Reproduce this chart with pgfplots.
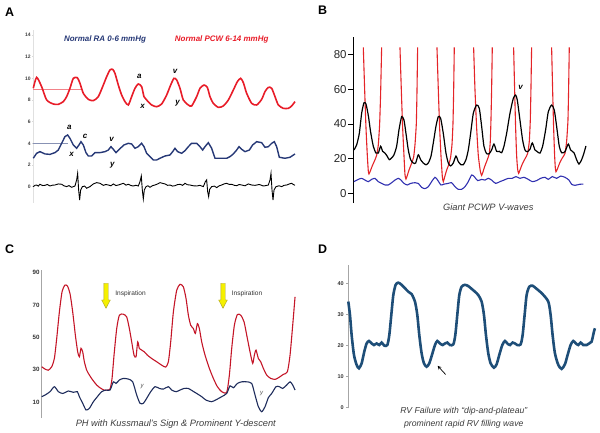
\documentclass[border=0pt]{standalone}
\usepackage{fontspec}
\setmainfont{Liberation Sans}
\usepackage{pgfplots}
\pgfplotsset{compat=1.18}
\definecolor{redA}{RGB}{232,28,40}
\definecolor{navyA}{RGB}{38,56,118}
\definecolor{redB}{RGB}{228,36,40}
\definecolor{blueB}{RGB}{48,48,176}
\definecolor{redC}{RGB}{196,22,40}
\definecolor{navyC}{RGB}{30,44,92}
\definecolor{blueD}{RGB}{30,78,120}
\definecolor{capgray}{RGB}{60,60,60}
\begin{document}
\begin{tikzpicture}[x=1bp,y=1bp]
\useasboundingbox (0,0) rectangle (600,433);
\pgfplotsset{every axis/.append style={scale only axis, anchor=south west, clip=false,
  /pgf/number format/assume math mode=true, axis x line=none, axis y line*=left}}

% ---------------- Panel A ----------------
\begin{axis}[at={(33.3bp,230.1bp)}, width=261.7bp, height=173.3bp,
  xmin=100, xmax=885, ymin=-1.5, ymax=14.5,
  axis line style={black!12, line width=0.5bp}, ytick={0,2,...,14},
  tick align=outside, major tick length=1.5bp, tick style={black!15, line width=0.4bp},
  yticklabel style={font=\fontsize{5}{6}\selectfont\bfseries, text=black!75, inner sep=1bp}]
\addplot[redA!55, line width=0.6bp] coordinates {(100,8.95) (245,8.95)};
\addplot[navyA!55, line width=0.6bp] coordinates {(100,3.97) (205,3.97)};
\addplot[redA, line width=1.6bp, smooth, tension=0.4] coordinates {
(100,9.08)(110,10.09)(125,9.23)(140,8.0)(160,7.63)(175,7.6)(190,7.85)(200,8.31)(210,9.08)(220,10.0)(232,10.06)(240,9.54)(250,8.62)(265,8.06)(280,7.94)(295,8.31)(310,9.38)(320,10.15)(330,10.77)(338,10.83)(345,10.46)(355,9.38)(365,8.46)(375,7.85)(385,7.54)(395,8.31)(405,9.08)(415,9.48)(425,9.23)(432,8.31)(440,8.0)(455,7.54)(470,7.38)(485,7.63)(500,8.46)(512,9.38)(522,10.0)(530,9.85)(540,9.08)(550,8.0)(565,7.54)(575,7.45)(590,8.31)(600,9.08)(612,9.38)(622,9.17)(630,8.31)(640,7.69)(655,7.32)(670,7.45)(685,8.0)(700,8.92)(712,9.69)(722,10.0)(730,9.6)(740,8.62)(755,7.69)(770,7.54)(785,8.06)(795,8.77)(805,9.17)(815,9.08)(825,8.31)(835,7.54)(850,7.23)(865,7.23)(875,7.45)(885,7.85)};
\addplot[navyA, line width=1.4bp] coordinates {
(100,2.62)(110,3.08)(120,3.23)(135,3.02)(150,2.98)(165,3.14)(175,3.38)(185,4.0)(195,4.62)(203,4.77)(210,4.46)(220,3.85)(230,3.54)(237,3.85)(243,4.15)(250,3.85)(258,3.14)(265,2.83)(275,2.83)(285,3.14)(300,3.14)(315,3.23)(325,3.38)(333,3.69)(340,3.45)(348,3.14)(358,3.45)(372,3.85)(385,4.0)(395,3.94)(405,3.54)(415,3.69)(425,4.0)(432,3.69)(440,3.08)(450,2.77)(460,2.46)(470,2.46)(480,2.62)(495,2.83)(510,2.92)(518,3.23)(525,3.54)(533,3.23)(545,3.08)(555,3.32)(565,3.69)(575,4.0)(590,4.0)(600,3.69)(608,3.38)(615,3.69)(625,4.06)(635,3.54)(645,2.62)(660,2.62)(680,2.62)(690,2.77)(700,3.02)(710,3.38)(717,3.69)(725,3.45)(735,3.23)(748,3.38)(758,3.85)(770,4.15)(785,4.06)(795,3.63)(805,3.69)(815,4.0)(823,4.15)(830,3.69)(838,2.71)(855,2.62)(870,2.71)(885,3.02)};
\addplot[black, line width=0.9bp] coordinates {
(100,0)(105,0.12)(110,0.15)(115,0.05)(120,0.22)(128,0.1)(135,0.12)(142,0.2)(150,0.06)(158,0.14)(165,0.15)(175,0.25)(185,0.22)(192,0.08)(200,0)(207,0.1)(215,-0.06)(225,0.06)(230,0.62)(233,1.23)(236,-0.31)(239,-1.23)(242,-0.31)(247,0)(254,0.05)(260,-0.15)(270,0)(280,0.25)(290,0.37)(300,0.31)(310,0.12)(318,0.2)(325,0.15)(333,0.08)(340,0.25)(348,0.1)(355,0.15)(362,0.22)(370,0.31)(378,0.14)(385,0.22)(393,0.1)(400,0.06)(408,0.13)(415,0.06)(420,0.46)(424,0.98)(427,-0.31)(430,-1.14)(433,-0.31)(438,0)(444,0.08)(450,-0.06)(458,0.1)(465,0.15)(473,0.25)(480,0.37)(488,0.3)(495,0.25)(503,0.12)(510,0.15)(518,0.05)(525,0.09)(532,0.18)(540,0.22)(548,0.12)(555,0.31)(562,0.18)(570,0.15)(580,0.08)(590,0.06)(600,0.12)(610,0)(616,0.46)(620,0.62)(623,-0.46)(626,-0.92)(629,-0.25)(635,0)(643,0.05)(650,-0.09)(658,0.08)(665,0.15)(672,0.25)(680,0.31)(688,0.2)(695,0.22)(703,0.12)(710,0.09)(718,0.2)(725,0.15)(735,0.08)(745,0.25)(755,0.15)(765,0.12)(778,0.2)(790,0.06)(798,0.1)(805,0.15)(810,0.62)(813,1.23)(816,-0.31)(819,-1.23)(822,-0.31)(828,0)(837,0.08)(845,0)(852,0.12)(860,0.15)(868,0.25)(875,0.31)(880,0.2)(885,0.12)};
\begin{scope}[every node/.style={font=\fontsize{8}{9}\selectfont\bfseries\itshape}]
\node at (axis cs:418,10.2) {a};
\node at (axis cs:428,7.4) {x};
\node at (axis cs:525,10.6) {v};
\node at (axis cs:533,7.7) {y};
\node at (axis cs:208,5.45) {a};
\node at (axis cs:215,3.0) {x};
\node at (axis cs:255,4.6) {c};
\node at (axis cs:335,4.4) {v};
\node at (axis cs:337,2.0) {y};
\end{scope}
\end{axis}

% ---------------- Panel B ----------------
\begin{axis}[at={(353.3bp,229.75bp)}, width=233.3bp, height=166.3bp,
  xmin=160, xmax=860, ymin=-5.5, ymax=90,
  axis line style={black, line width=1.2bp}, ytick={0,20,...,80},
  tick align=outside, major tick length=5bp, tick style={black, line width=1bp},
  yticklabel style={font=\fontsize{11.5}{13}\selectfont, text=black!85, inner sep=1.5bp}]
\addplot[redB, line width=1.1bp, smooth, tension=0.3] coordinates {(190,84)(194,60)(198,38)(202,22)(205,13)(207,11.3)(211,13)(217,16)(224,19)(230,22)(235,28)(239,40)(242,58)(245,84)};
\addplot[redB, line width=1.1bp, smooth, tension=0.3] coordinates {(300,84)(304,60)(308,38)(312,22)(315,11)(318,8.4)(322,10.5)(328,14)(335,17.5)(341,21)(345,28)(349,40)(351,58)(353,84)};
\addplot[redB, line width=1.1bp, smooth, tension=0.3] coordinates {(411,84)(415,60)(419,38)(423,22)(427,10)(430,6.9)(434,9.5)(440,13.5)(447,17)(452,21)(456,28)(459,40)(461,58)(463,84)};
\addplot[redB, line width=1.1bp, smooth, tension=0.3] coordinates {(521,84)(525,60)(530,38)(535,22)(541,13)(545,10.5)(549,12.5)(555,16)(562,19.5)(568,23)(571,30)(573,42)(575,60)(577,84)};
\addplot[redB, line width=1.1bp, smooth, tension=0.3] coordinates {(641,84)(644,60)(647,38)(650,22)(653,14)(656,11.7)(660,13.5)(667,17)(675,20)(683,23)(688,30)(691,42)(693,60)(695,84)};
\addplot[redB, line width=1.1bp, smooth, tension=0.3] coordinates {(755,84)(758,60)(761,38)(764,22)(766,15)(768,12.6)(772,14)(779,17.5)(787,20.5)(795,23)(800,30)(804,42)(806,60)(808,84)};
\addplot[black, line width=1.2bp, smooth, tension=0.4] coordinates {
(162,25.1)(170,28.0)(178,34.6)(185,46.1)(192,52.2)(198,51.5)(205,44.9)(212,35.4)(220,27.2)(228,23.3)(235,23.3)(242,27.2)(248,24.3)(255,23.3)(262,21.4)(268,19.5)(275,20.5)(282,22.3)(290,27.2)(297,36.6)(305,44.2)(312,42.3)(318,34.6)(325,25.1)(332,19.5)(340,17.6)(347,17.6)(355,22.3)(362,19.5)(370,17.6)(378,16.6)(385,17.6)(393,21.4)(400,29.1)(408,38.7)(415,44.2)(422,43.3)(430,34.6)(438,23.3)(445,17.6)(452,15.9)(460,17.6)(468,21.6)(475,18.4)(483,16.6)(490,16.6)(498,19.5)(505,25.1)(512,34.6)(520,46.1)(530,50.9)(538,49.0)(545,38.7)(552,27.2)(560,23.0)(568,23.0)(575,25.1)(582,28.5)(590,24.3)(598,24.3)(605,23.5)(612,27.2)(620,34.6)(630,46.1)(640,54.7)(647,56.6)(652,53.8)(660,42.3)(668,30.8)(675,25.1)(682,24.1)(690,25.5)(697,29.1)(705,25.1)(712,24.1)(720,23.3)(728,27.2)(737,36.6)(745,47.0)(755,50.9)(763,48.0)(770,38.7)(778,27.2)(785,23.5)(795,24.1)(805,28.5)(812,25.1)(822,23.5)(830,19.5)(837,17.0)(845,19.5)(852,23.3)(858,27.4)};
\addplot[blueB, line width=1.1bp, smooth, tension=0.4] coordinates {
(162,6.9)(175,8.2)(185,8.8)(195,7.8)(205,6.9)(215,8.2)(225,8.8)(235,6.9)(245,5.9)(255,5.0)(265,5.0)(275,6.3)(285,7.8)(295,8.8)(303,7.8)(312,5.9)(322,5.0)(332,5.9)(345,6.3)(355,5.9)(365,3.6)(375,2.9)(385,4.0)(395,6.9)(405,9.4)(413,7.8)(423,5.0)(433,5.5)(445,5.9)(455,6.3)(465,4.0)(475,2.5)(485,2.5)(495,4.0)(505,6.9)(515,10.7)(523,9.8)(533,7.5)(545,8.2)(555,7.8)(565,8.8)(575,7.8)(587,5.9)(600,6.9)(612,7.8)(625,8.8)(637,8.8)(648,9.8)(660,8.8)(672,9.4)(685,8.2)(697,6.9)(710,7.5)(722,8.8)(735,9.4)(745,8.2)(757,9.8)(770,8.8)(782,10.1)(795,9.4)(807,7.8)(815,5.4)(825,4.8)(840,5.4)(850,5.5)};
\node[font=\fontsize{8}{9}\selectfont\bfseries\itshape] at (axis cs:662,61) {v};
\end{axis}

% ---------------- Panel C ----------------
\begin{axis}[at={(41.7bp,14.8bp)}, width=255bp, height=147.8bp,
  xmin=125, xmax=890, ymin=0, ymax=91.4,
  axis line style={black!35, line width=0.6bp}, ytick={10,30,...,90}, major tick length=0pt,
  yticklabel style={font=\fontsize{6.2}{7}\selectfont\bfseries, text=black!80, inner sep=2bp}]
\addplot[redC, line width=1.1bp, smooth, tension=0.4] coordinates {
(125,31.8)(135,30.4)(145,29.7)(155,31.8)(163,36.9)(170,49.3)(178,65.7)(186,78.1)(194,82.2)(202,81.8)(210,77.0)(218,65.7)(226,51.3)(233,41.0)(238,38.0)(243,43.2)(248,41.0)(253,34.9)(260,29.7)(268,26.7)(278,23.6)(290,20.5)(300,18.8)(312,17.4)(322,17.4)(330,18.0)(336,24.6)(342,39.0)(350,55.4)(358,63.7)(370,64.3)(380,62.6)(388,55.4)(395,47.2)(402,39.0)(408,38.0)(413,47.2)(418,43.1)(425,42.1)(433,41.0)(442,39.0)(455,36.9)(470,34.9)(485,32.8)(497,31.6)(505,34.9)(512,47.2)(520,65.7)(530,79.1)(540,82.8)(550,81.2)(558,74.0)(565,63.7)(572,57.5)(580,55.4)(586,52.4)(592,58.5)(598,55.4)(605,47.2)(615,39.0)(628,30.8)(640,24.6)(652,19.5)(665,16.4)(680,16.0)(688,26.7)(695,43.1)(703,57.5)(712,64.1)(722,63.7)(732,59.6)(742,49.3)(750,41.0)(758,33.9)(763,39.0)(768,42.1)(775,36.9)(782,34.9)(790,30.8)(800,26.7)(812,24.6)(825,24.0)(835,25.0)(850,27.1)(862,28.7)(870,39.0)(878,57.5)(885,75.0)};
\addplot[navyC, line width=1.1bp, smooth, tension=0.4] coordinates {
(125,13.3)(135,14.3)(150,16.4)(163,19.5)(175,16.4)(188,15.3)(205,16.8)(220,16.0)(232,16.4)(238,13.3)(248,9.2)(258,5.1)(268,6.1)(280,10.2)(292,13.3)(305,16.4)(318,17.4)(330,17.4)(340,22.5)(348,21.5)(358,23.6)(370,24.6)(385,24.2)(398,22.5)(410,14.3)(420,9.2)(430,9.2)(440,12.3)(452,16.4)(465,19.5)(478,18.4)(490,18.0)(505,19.5)(515,17.4)(528,16.4)(540,17.4)(552,18.4)(565,18.4)(578,16.8)(590,15.3)(605,13.3)(618,11.2)(635,10.2)(650,11.6)(665,13.3)(680,15.3)(690,20.0)(700,18.8)(712,21.5)(725,22.5)(740,22.5)(755,21.5)(765,14.3)(775,7.1)(785,4.0)(795,7.1)(805,12.7)(815,15.3)(828,19.5)(838,19.5)(848,18.4)(860,20.5)(870,22.5)(878,20.5)(885,17.4)};
\node[font=\fontsize{6}{7}\selectfont\itshape, text=black!70] at (axis cs:426,19.5) {y};
\node[font=\fontsize{6}{7}\selectfont\itshape, text=black!70] at (axis cs:785,15.5) {y};
\end{axis}

% ---------------- Panel D ----------------
\begin{axis}[at={(348.3bp,24.7bp)}, width=248.3bp, height=143.3bp,
  xmin=145, xmax=890, ymin=-0.3, ymax=45.9,
  axis line style={black!35, line width=0.6bp}, ytick={0,10,...,40},
  tick align=outside, major tick length=2.5bp, tick style={black!35, line width=0.5bp},
  yticklabel style={font=\fontsize{5.5}{6.5}\selectfont\bfseries, text=black!80, inner sep=2bp}]
\addplot[blueD, line width=2.6bp, smooth, tension=0.45] coordinates {
(145,34.1)(150,29.8)(155,23.3)(162,16.9)(170,13.7)(177,12.6)(185,14.2)(193,18.0)(200,20.6)(207,21.4)(215,20.6)(222,20.1)(230,20.6)(238,20.1)(245,20.9)(253,19.9)(262,20.1)(268,23.3)(274,29.8)(280,36.2)(287,39.5)(295,40.2)(305,39.5)(315,38.4)(325,37.3)(335,36.5)(345,34.1)(352,29.8)(358,23.3)(365,17.4)(372,14.2)(380,13.1)(388,14.2)(396,16.9)(405,20.1)(412,21.4)(420,20.6)(428,20.1)(435,20.6)(442,20.9)(450,20.1)(460,20.3)(466,23.3)(472,29.8)(478,36.2)(485,38.9)(495,39.5)(505,39.1)(515,38.2)(525,37.3)(535,36.2)(545,34.1)(552,29.8)(558,23.3)(565,17.4)(572,14.2)(582,12.8)(590,13.9)(598,16.9)(607,20.1)(615,21.4)(622,20.6)(630,20.1)(638,20.9)(645,20.6)(652,20.1)(662,20.3)(668,23.3)(674,29.8)(680,36.2)(688,38.9)(698,39.2)(708,38.4)(718,37.5)(728,36.5)(745,34.1)(752,29.8)(758,23.3)(765,17.4)(775,13.7)(785,12.4)(795,13.9)(803,16.9)(812,20.1)(820,21.4)(828,20.6)(835,20.1)(842,20.9)(850,20.1)(860,20.1)(868,20.6)(875,21.2)(882,24.4)(885,25.5)};
\draw[-stealth, black, line width=0.7bp] (axis cs:437,10.6) -- (axis cs:413,13.4);
\end{axis}

% ---------------- Labels and captions ----------------
\begin{scope}[every node/.style={font=\fontsize{12.5}{14}\selectfont\bfseries}]
\node at (9.5,421) {A};
\node at (322.5,423) {B};
\node at (9.5,183.7) {C};
\node at (322.5,183.3) {D};
\end{scope}
\node[font=\fontsize{8}{9.5}\selectfont\bfseries\itshape, text=navyA] at (105,393.7) {Normal RA 0-6 mmHg};
\node[font=\fontsize{8}{9.5}\selectfont\bfseries\itshape, text=redA] at (221.7,393.7) {Normal PCW 6-14 mmHg};
\node[font=\fontsize{9.3}{11}\selectfont\itshape, text=capgray] at (488.3,226.3) {Giant PCWP V-waves};
\node[font=\fontsize{9.3}{11}\selectfont\itshape, text=capgray] at (175.8,9) {PH with Kussmaul's Sign \& Prominent Y-descent};
\node[font=\fontsize{8.7}{10}\selectfont\itshape, text=capgray] at (463.8,21.8) {RV Failure with “dip-and-plateau”};
\node[font=\fontsize{8.7}{10}\selectfont\itshape, text=capgray] at (463.8,9.2) {prominent rapid RV filling wave};
% inspiration arrows
\foreach \cx/\tx in {106/130.5, 223/247} {
  \filldraw[fill={rgb,255:red,245;green,240;blue,0}, draw={rgb,255:red,170;green,160;blue,40}, line width=0.4bp]
    (\cx-2.2,149.7) -- (\cx+2.2,149.7) -- (\cx+2.2,133) -- (\cx+4.3,133) -- (\cx,124.7) -- (\cx-4.3,133) -- (\cx-2.2,133) -- cycle;
  \node[font=\fontsize{6.6}{8}\selectfont, text=black!80] at (\tx,139) {Inspiration};
}
\end{tikzpicture}
\end{document}
